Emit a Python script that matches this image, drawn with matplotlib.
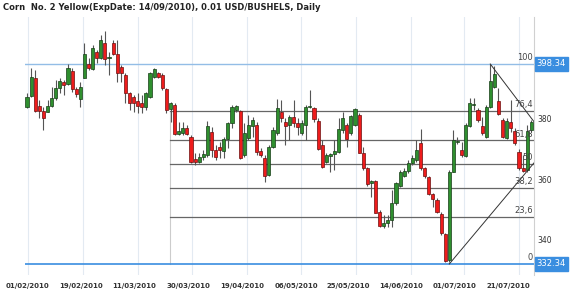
import matplotlib
matplotlib.use("Agg")
from matplotlib import pyplot as plt
import numpy as np

title = "Corn  No. 2 Yellow(ExpDate: 14/09/2010), 0.01 USD/BUSHELS, Daily"

# daily OHLC (USD cents / bushel)
opens = [384.2, 387.8, 393.7, 384.5, 382.8, 382.5, 384.5, 387.1, 390.4, 392.4,
         391.7, 396.0, 390.1, 386.8, 393.7, 398.3, 396.7, 402.3, 400.3, 405.3,
         400.3, 405.3, 401.6, 397.3, 394.7, 388.8, 387.5, 386.1, 385.5, 384.2,
         387.5, 394.0, 395.4, 394.7, 390.1, 383.5, 384.8, 375.3, 375.6, 377.2,
         374.3, 367.0, 366.0, 367.6, 368.3, 375.9, 370.0, 371.0, 369.6, 373.6,
         378.9, 383.2, 382.8, 368.3, 373.9, 377.9, 378.2, 369.6, 367.3, 361.7,
         371.0, 375.6, 382.5, 379.2, 378.2, 380.9, 378.9, 375.6, 378.2, 384.2,
         383.8, 379.5, 371.6, 366.0, 368.0, 368.6, 369.3, 376.6, 378.2, 375.6,
         378.2, 381.5, 369.0, 364.0, 359.1, 359.7, 349.5, 344.9, 345.9, 346.9,
         352.5, 358.1, 361.4, 363.0, 365.7, 366.7, 372.3, 364.0, 361.1, 355.5,
         353.5, 348.9, 342.2, 333.7, 362.7, 372.6, 370.0, 368.0, 377.9, 384.8,
         383.2, 377.9, 374.3, 384.2, 390.8, 386.1, 379.9, 373.9, 379.2, 376.2,
         369.3, 364.0, 363.4, 376.6]
highs = [388.8, 397.0, 396.4, 386.5, 384.2, 386.5, 390.8, 393.1, 393.7, 393.1,
         398.3, 397.0, 390.8, 392.4, 405.3, 400.3, 404.6, 403.0, 407.9, 409.2,
         402.3, 406.3, 406.3, 398.0, 395.4, 389.1, 388.1, 388.8, 388.1, 389.1,
         395.7, 397.0, 395.7, 395.4, 390.4, 385.8, 385.5, 379.2, 379.2, 378.2,
         374.9, 369.0, 369.0, 370.0, 379.5, 377.6, 371.6, 372.6, 374.3, 379.2,
         384.8, 384.8, 383.2, 378.9, 381.5, 380.9, 379.2, 370.6, 368.3, 371.6,
         377.6, 386.8, 386.5, 380.5, 381.5, 386.5, 380.5, 379.9, 384.8, 389.8,
         384.2, 380.5, 373.3, 369.0, 369.0, 373.3, 380.5, 382.5, 378.9, 381.5,
         383.8, 382.2, 371.0, 364.4, 360.1, 360.1, 350.2, 348.5, 348.5, 356.8,
         359.4, 363.4, 364.0, 366.7, 368.3, 373.3, 376.9, 364.4, 361.4, 355.8,
         354.1, 349.5, 342.6, 363.4, 376.6, 374.3, 372.6, 378.9, 387.1, 387.1,
         383.8, 380.9, 384.8, 398.3, 397.7, 390.4, 380.5, 380.5, 386.5, 377.2,
         370.3, 368.3, 378.2, 379.9]
lows = [383.8, 387.5, 382.5, 380.5, 376.6, 382.5, 384.2, 386.5, 388.8, 388.1,
        391.4, 389.1, 387.5, 384.2, 393.7, 396.4, 396.4, 398.7, 400.0, 398.0,
        394.7, 401.3, 392.4, 392.4, 385.5, 383.2, 382.5, 382.2, 382.2, 383.2,
        387.1, 393.7, 393.7, 389.8, 382.2, 379.2, 374.9, 374.9, 374.9, 374.9,
        365.7, 365.0, 365.7, 366.7, 367.6, 367.6, 366.7, 367.3, 367.3, 370.6,
        377.2, 382.5, 367.0, 367.6, 373.3, 374.3, 368.3, 367.6, 359.4, 361.4,
        370.6, 374.9, 379.2, 371.6, 373.3, 377.6, 374.9, 374.9, 373.3, 383.8,
        379.2, 370.0, 364.0, 365.7, 362.7, 363.4, 368.9, 375.6, 371.0, 374.9,
        377.9, 369.0, 363.4, 358.1, 354.5, 349.2, 344.6, 344.2, 344.6, 344.6,
        351.8, 357.8, 361.1, 362.4, 365.0, 366.0, 363.4, 360.7, 355.1, 351.2,
        349.2, 341.9, 333.0, 333.0, 362.7, 371.9, 367.6, 367.6, 377.6, 383.2,
        379.2, 374.9, 373.9, 383.8, 390.4, 381.5, 373.9, 373.6, 375.9, 371.6,
        363.4, 362.7, 362.7, 375.9]
closes = [387.5, 394.0, 382.8, 382.8, 380.5, 384.5, 387.1, 390.4, 392.7, 391.4,
          397.0, 390.1, 388.4, 390.8, 401.6, 397.0, 403.6, 400.3, 406.3, 400.0,
          400.5, 401.6, 395.4, 395.4, 388.8, 385.5, 385.5, 384.5, 384.2, 388.8,
          395.4, 396.7, 394.0, 390.4, 383.2, 385.5, 375.3, 376.2, 377.2, 375.3,
          366.0, 366.0, 367.6, 368.6, 377.9, 370.0, 367.6, 370.0, 373.6, 378.9,
          384.2, 384.5, 367.3, 375.6, 378.2, 379.9, 369.3, 368.3, 361.4, 371.0,
          376.6, 383.8, 380.5, 377.9, 380.9, 378.9, 377.6, 378.9, 384.2, 384.5,
          380.2, 370.3, 364.4, 368.3, 368.6, 369.6, 376.9, 380.5, 373.6, 381.2,
          383.5, 369.0, 364.0, 358.7, 359.7, 349.2, 344.9, 345.9, 346.9, 352.5,
          359.1, 362.7, 363.0, 365.7, 367.3, 370.0, 364.0, 361.4, 355.5, 353.8,
          349.5, 342.6, 333.3, 362.7, 373.3, 372.9, 368.3, 378.2, 385.5, 385.2,
          379.9, 375.6, 384.2, 392.7, 395.1, 381.8, 374.3, 379.5, 377.2, 372.3,
          364.0, 363.0, 376.2, 379.2]

date_labels = ["01/02/2010", "19/02/2010", "11/03/2010", "30/03/2010", "19/04/2010",
               "06/05/2010", "25/05/2010", "14/06/2010", "01/07/2010", "21/07/2010"]

fib_high = 398.34
fib_low = 332.34
fib_levels = [0.236, 0.382, 0.5, 0.618, 0.764]
fib_names = ["23,6", "38,2", "50", "61,8", "76,4"]
price_ticks = [340, 360, 380]

fig = plt.figure(figsize=(5.7, 2.93), dpi=100)
ax = fig.add_axes([25 / 570, 18 / 293, 509 / 570, 258 / 293])

n = len(opens)
x = np.arange(n)
o = np.array(opens)
c = np.array(closes)
up = c >= o

grid_pos = [0.24, 13.66, 27.07, 40.24, 53.66, 66.83, 80.24, 93.66, 106.59, 120.0]
label_pos = [0.24, 13.17, 26.1, 39.27, 52.44, 65.6, 78.3, 91.2, 104.4, 117.3]
for g in grid_pos:
    ax.axvline(g, color="#e3eaf2", lw=0.8, zorder=0)

# fibonacci retracement lines
fib_start = 34.9
for lvl, name in zip(fib_levels, fib_names):
    p = fib_low + lvl * (fib_high - fib_low)
    ax.plot([fib_start, 123.66], [p, p], color="#666666", lw=0.9, zorder=1)
    ax.text(123.3, p + 0.6, name, ha="right", va="bottom", fontsize=6, color="#444444", zorder=5)
ax.plot([fib_start, fib_start], [fib_low, fib_low + 0.764 * (fib_high - fib_low)],
        color="#cccccc", lw=0.8, zorder=0)
ax.axhline(fib_high, color="#93bde6", lw=1.0, zorder=1)
ax.axhline(fib_low, color="#3a8ee0", lw=1.2, zorder=1)
ax.text(123.3, fib_high + 0.6, "100", ha="right", va="bottom", fontsize=6, color="#444444")
ax.text(123.3, fib_low + 0.6, "0", ha="right", va="bottom", fontsize=6, color="#444444")

# fan lines from swing high / swing low
ax.plot([113, 123.66], [fib_high, 379.3], color="#333333", lw=0.7, zorder=4)
ax.plot([103, 123.66], [fib_low, 365.7], color="#333333", lw=0.7, zorder=4)

# candles
ax.vlines(x, lows, highs, color="#555555", lw=0.8, zorder=2)
body_bot = np.minimum(o, c)
body_h = np.maximum(np.abs(c - o), 0.35)
ax.bar(x[up], body_h[up], bottom=body_bot[up], width=0.75, color="#2f8f2f",
       edgecolor="#173d17", linewidth=0.5, zorder=3)
ax.bar(x[~up], body_h[~up], bottom=body_bot[~up], width=0.75, color="#ee1c1c",
       edgecolor="#6b0f0f", linewidth=0.5, zorder=3)

ax.set_xlim(-0.49, 123.66)
ax.set_ylim(328.71, 413.85)
ax.set_xticks(label_pos)
ax.set_xticklabels(date_labels, fontsize=5, fontweight="bold", color="#333333")
ax.tick_params(axis="x", length=0, pad=6)
ax.set_yticks([])
for s in ["top", "left", "bottom"]:
    ax.spines[s].set_visible(False)
ax.spines["right"].set_color("#d0d0d0")
ax.spines["right"].set_linewidth(0.8)

for t in price_ticks:
    ax.text(124.6, t, str(t), ha="left", va="center", fontsize=5.5, color="#333333", clip_on=False)
for p in [fib_high, fib_low]:
    ax.text(124.3, p, f"{p:.2f}", ha="left", va="center", fontsize=6, color="white", clip_on=False,
            bbox=dict(boxstyle="square,pad=0.25", fc="#3a8ee0", ec="#3a8ee0"))

fig.text(3 / 570, 1 - 8 / 293, title, ha="left", va="center", fontsize=6, fontweight="bold",
         color="#222222")

plt.savefig("out.png", dpi=100)
